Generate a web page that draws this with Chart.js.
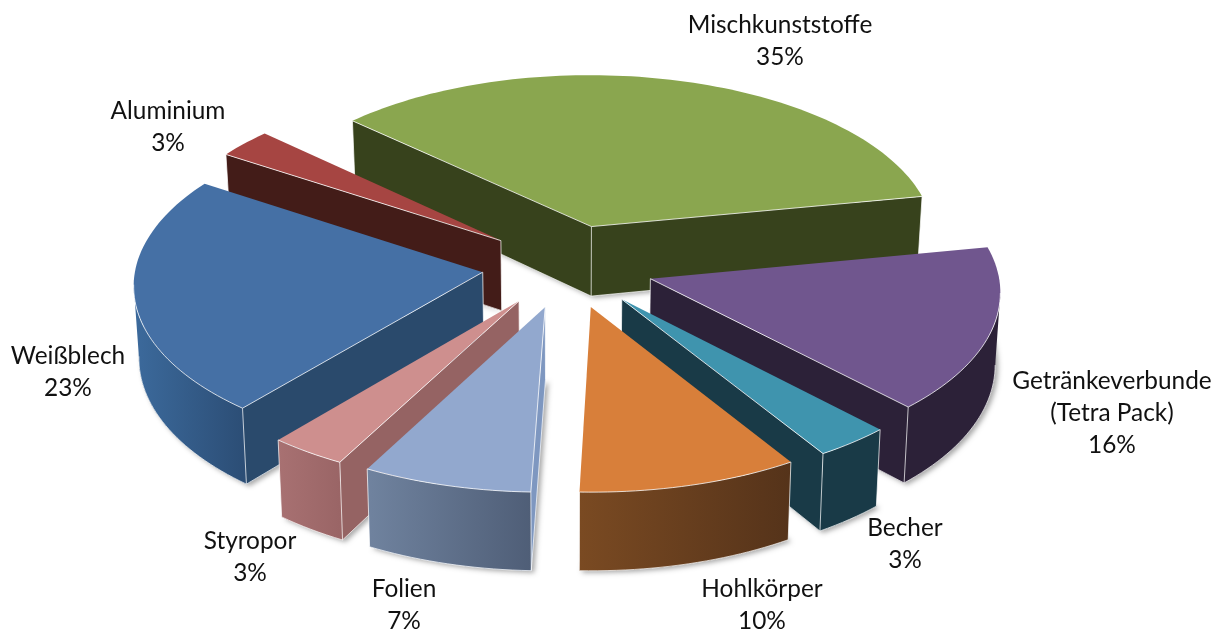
<!DOCTYPE html>
<html><head><meta charset="utf-8">
<style>html,body{margin:0;padding:0;background:#fff}#w{position:relative;width:1226px;height:633px}</style>
<script src="https://cdn.jsdelivr.net/npm/chart.js@4"></script>
</head><body><div id="w"><canvas id="c" width="1226" height="633"></canvas></div>
<script>
const categories = ["Mischkunststoffe","Getränkeverbunde\n(Tetra Pack)","Becher","Hohlkörper","Folien","Styropor","Weißblech","Aluminium"];
const shares = [35.05,15.8,3.25,9.5,7.3,3.3,23,2.8];
const topColors = ["#8AA64F","#70568E","#3F94AE","#D87F3A","#92A8CE","#CE8F8E","#4570A5","#A64542"];
const sideColors = ["#37421C","#2C2138","#193A47","#55331A","#7E97C0","#956363","#2A4A6C","#431C18"];
const wallFrom = ["#37421C","#2C2138","#193A47","#7A4A22","#70839F","#A87172","#3C6A9C","#431C18"];
const wallTo   = ["#37421C","#2C2138","#193A47","#55331A","#4F5E77","#9A6566","#2C4E76","#431C18"];
const labelCenters = [[780,25],[1112,381],[905,528],[762,589],[404,589],[250,541],[68,356],[168,111]];
const LINE = 32, FONT = '24.4px Lato, Carlito, sans-serif';
const K = 0.485, P = 0.000196, DEPTH = 71, DP = 0.00025, SHRINK = 0.012;

function project(el, X, Y, bottom){
  const f = 1 + P*Y;
  if(!bottom) return [el.x + X*f, el.y + K*Y*f];
  return [el.x + X*f*(1-SHRINK), el.y + K*Y*f + DEPTH*(1+DP*Y)];
}
function tracePath(ctx, pts){ ctx.beginPath(); pts.forEach((p,i)=> i?ctx.lineTo(p[0],p[1]):ctx.moveTo(p[0],p[1])); }

const pie3d = {
  id:'pie3d',
  beforeDatasetDraw(chart){
    const ctx = chart.ctx, arcs = chart.getDatasetMeta(0).data;
    const items = arcs.map((el,i)=>{
      const mid = (el.startAngle+el.endAngle)/2, off = (el.options.offset||0)/4;
      return {el,i,oy:Math.sin(mid)*off,ox:Math.cos(mid)*off};
    }).sort((a,b)=>a.oy-b.oy);
    for(const s of items){
      const {el,i,ox,oy} = s, r = el.outerRadius, n = Math.max(6,Math.round((el.endAngle-el.startAngle)*40));
      const w = [[ox,oy]];
      for(let j=0;j<=n;j++){ const a = el.startAngle+(el.endAngle-el.startAngle)*j/n; w.push([ox+r*Math.cos(a),oy+r*Math.sin(a)]); }
      const top = w.map(p=>project(el,p[0],p[1],false)), bot = w.map(p=>project(el,p[0],p[1],true));
      const L = top.length;
      // soft shadow of the solid
      ctx.save();
      ctx.shadowColor='rgba(0,0,0,.34)'; ctx.shadowBlur=5; ctx.shadowOffsetX=3; ctx.shadowOffsetY=2;
      tracePath(ctx,bot); ctx.closePath(); ctx.fillStyle=sideColors[i]; ctx.fill();
      ctx.restore();
      // visible edges as contiguous runs: an edge faces the viewer if it runs leftwards on screen
      const xs = top.slice(1).map(p=>p[0]);
      const g = ctx.createLinearGradient(Math.min(...xs),0,Math.max(...xs),0);
      g.addColorStop(0,wallFrom[i]); g.addColorStop(1,wallTo[i]);
      const runs=[]; let cur=null;
      for(let j=1;j<L-1;j++){
        if(top[j+1][0]<top[j][0]){ if(!cur){cur=[j];runs.push(cur);} cur.push(j+1); } else cur=null;
      }
      const radial=[];
      if(top[1][0]<top[0][0]) radial.push([0,1]);
      if(top[0][0]<top[L-1][0]) radial.push([L-1,0]);
      const quad = idx => idx.map(j=>top[j]).concat(idx.slice().reverse().map(j=>bot[j]));
      radial.forEach(e=>{ tracePath(ctx,quad(e)); ctx.closePath(); ctx.fillStyle=sideColors[i]; ctx.fill(); });
      runs.forEach(e=>{ tracePath(ctx,quad(e)); ctx.closePath(); ctx.fillStyle=g; ctx.fill(); });
      // light rims of the walls
      const all = radial.concat(runs);
      ctx.strokeStyle='rgba(255,255,255,.72)'; ctx.lineWidth=1; ctx.lineJoin='round';
      all.forEach(e=>{ tracePath(ctx,e.map(j=>bot[j])); ctx.stroke(); });
      const corners = new Set();
      radial.forEach(e=>e.forEach(j=>corners.add(j)));
      runs.forEach(e=>{ if(e[0]===1) corners.add(1); if(e[e.length-1]===L-1) corners.add(L-1); });
      corners.forEach(j=>{ tracePath(ctx,[top[j],bot[j]]); ctx.stroke(); });
      // top face
      tracePath(ctx,top); ctx.closePath(); ctx.fillStyle=el.options.backgroundColor; ctx.fill();
      ctx.strokeStyle='rgba(255,255,255,.78)';
      all.forEach(e=>{ tracePath(ctx,e.map(j=>top[j])); ctx.stroke(); });
    }
    // labels
    ctx.save(); ctx.font=FONT; ctx.fillStyle='#111'; ctx.textAlign='center'; ctx.textBaseline='middle';
    categories.forEach((c,i)=>{
      const lines=c.split('\n').concat([Math.round(shares[i])+'%']);
      lines.forEach((t,l)=>ctx.fillText(t,labelCenters[i][0],labelCenters[i][1]+l*LINE));
    });
    ctx.restore();
    return false;
  }
};

new Chart(document.getElementById('c'),{
  type:'pie',
  data:{labels:categories,datasets:[{data:shares,backgroundColor:topColors,borderWidth:0,offset:344}]},
  options:{
    responsive:false,animation:false,rotation:-47,radius:347,
    layout:{padding:{left:0,top:0,right:90,bottom:101}},
    plugins:{legend:{display:false},tooltip:{enabled:false}}
  },
  plugins:[pie3d]
});
</script></body></html>
